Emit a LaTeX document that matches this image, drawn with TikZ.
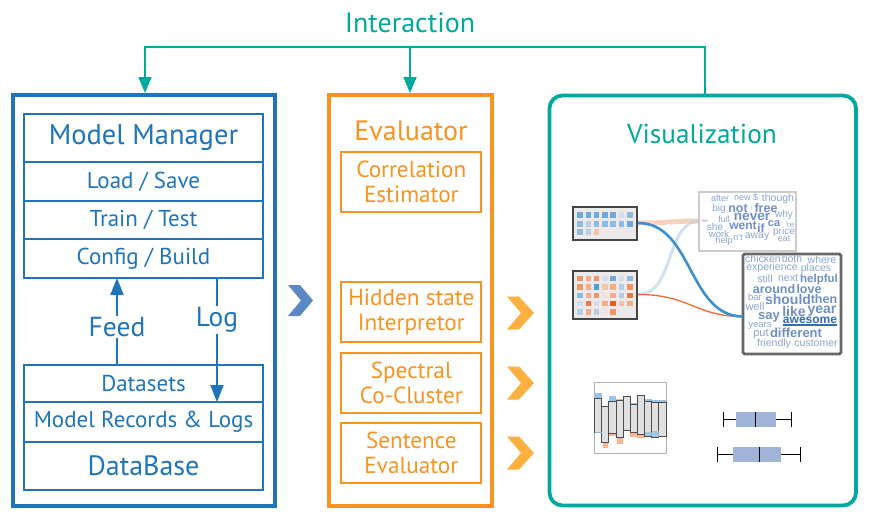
\documentclass[tikz,border=0pt]{standalone}
\usepackage{fontspec}
\setmainfont{PT Sans}
\newfontfamily\cloudfont{Liberation Sans}
\usetikzlibrary{arrows.meta,calc}
\definecolor{mblue}{HTML}{1F74BA}
\definecolor{morange}{HTML}{F7931E}
\definecolor{mteal}{HTML}{00A99D}
\definecolor{chevblue}{HTML}{5B87C5}
\definecolor{chevorange}{HTML}{FBB040}
\definecolor{wordc}{HTML}{8AA5CF}
\definecolor{wordb}{HTML}{6F8FC5}
\definecolor{wordd}{HTML}{2F6DB5}
\definecolor{mframe}{HTML}{454545}
\definecolor{mbg}{HTML}{EBE9EA}
\definecolor{cB}{HTML}{72A9DB}
\definecolor{cBm}{HTML}{8FBBE0}
\definecolor{cBl}{HTML}{B5CDE6}
\definecolor{cBg}{HTML}{D3DCE8}
\definecolor{cBs}{HTML}{4A9EDC}
\definecolor{cO}{HTML}{F0956A}
\definecolor{cOm}{HTML}{F3AE88}
\definecolor{cOl}{HTML}{F3C4A8}
\definecolor{cOp}{HTML}{F0E2DC}
\definecolor{cOd}{HTML}{EE7A40}
\definecolor{cOs}{HTML}{E85A20}
\definecolor{curveb}{HTML}{3D8FD1}
\definecolor{boxc}{HTML}{9FB4D6}
\definecolor{barpatchb}{HTML}{9CC3E5}
\definecolor{barpatcho}{HTML}{F9B490}
\tikzset{
  outerblue/.style={draw=mblue,line width=3.2pt,inner sep=0pt},
  outerorange/.style={draw=morange,line width=3.2pt,inner sep=0pt},
  outerteal/.style={draw=mteal,line width=3.8pt,rounded corners=13pt,inner sep=0pt},
  bcell/.style={draw=mblue,line width=2pt,text=mblue,minimum width=239pt,inner sep=0pt,font=\fontsize{23}{27}\selectfont},
  ocell/.style={draw=morange,line width=2pt,text=morange,minimum width=140pt,minimum height=60pt,inner sep=0pt,align=center,font=\fontsize{23.2}{25}\selectfont},
  btext/.style={text=mblue,fill=white,inner sep=1pt,font=\fontsize{27.5}{31}\selectfont},
  iline/.style={draw=mteal,line width=1.8pt},
  iarrow/.style={iline,-{Triangle[length=16pt,width=13pt]}},
  barrow/.style={draw=mblue,line width=2pt,-{Triangle[length=17pt,width=13pt]}},
  chev/.style={fill=#1},
  mat/.style={draw=mframe,line width=2.4pt,fill=mbg,minimum width=64pt,inner sep=0pt},
  cell/.style={fill=#1,minimum size=5.6pt,inner sep=0pt},
  w/.style={text=wordc,inner sep=0pt,font=\cloudfont\fontsize{#1}{#1}\selectfont},
  wb/.style={text=wordb,inner sep=0pt,font=\cloudfont\bfseries\fontsize{#1}{#1}\selectfont},
  bar/.style={fill=black!12,draw=black!70,line width=0.9pt},
  whisk/.style={draw=black,line width=1pt},
}
\begin{document}
\begin{tikzpicture}[x=1pt,y=-1pt]
\useasboundingbox[fill=white] (0,0) rectangle (872,519);

% ---------- Interaction ----------
\node[text=mteal,font=\fontsize{28}{32}\selectfont] (inter) at (410,23) {Interaction};

% ---------- Model manager ----------
\node[outerblue,minimum width=262pt,minimum height=411pt] (mm) at (144,300.5) {};
\node[bcell,minimum height=48pt,font=\fontsize{28.5}{32}\selectfont] (mmt) at (143.5,138) {Model Manager};
\node[bcell,minimum height=39pt] (ls) at (143.5,181.5) {Load / Save};
\node[bcell,minimum height=38pt] (tt) at (143.5,220) {Train / Test};
\node[bcell,minimum height=39pt] (cb) at (143.5,258.5) {Config / Build};
\node[bcell,minimum height=37pt] (ds) at (143.5,383.5) {Datasets};
\node[bcell,minimum height=40pt] (mr) at (143.5,422) {Model Records \& Logs};
\node[bcell,minimum height=48pt,font=\fontsize{28}{32}\selectfont] (db) at (143.5,466) {DataBase};

\coordinate (feedS) at (117,365);
\coordinate (feedE) at (117,278);
\coordinate (logS) at (217,278);
\coordinate (logE) at (217,402);
\draw[barrow] (feedS) -- (feedE);
\draw[barrow] (logS) -- (logE);
\node[btext] (feed) at (117,327) {Feed};
\node[btext] (log) at (217,320) {Log};

% blue chevron
\path[chev=chevblue] (288,285) -- (300,285) -- (313,300.5) -- (300,316) -- (288,316) -- (301,300.5) -- cycle;

% ---------- Evaluator ----------
\node[outerorange,minimum width=163pt,minimum height=411pt] (ev) at (410.5,300.5) {};
\node[text=morange,font=\fontsize{28}{32}\selectfont] (evt) at (411,131) {Evaluator};
\node[ocell] (ce) at (411.3,182.2) {Correlation\\Estimator};
\node[ocell] (hs) at (411.3,312) {Hidden state\\Interpretor};
\node[ocell] (sc) at (411.3,383.3) {Spectral\\Co-Cluster};
\node[ocell] (se) at (411.3,453) {Sentence\\Evaluator};

\foreach \cy in {313,383,453}{
  \path[chev=chevorange] (507,\cy-16.5) -- (519,\cy-16.5) -- (534,\cy) -- (519,\cy+16.5) -- (507,\cy+16.5) -- (521,\cy) -- cycle;
}

% ---------- Visualization ----------
\node[outerteal,minimum width=306.5pt,minimum height=410pt] (vis) at (702.75,300.5) {};
\node[text=mteal,font=\fontsize{27.3}{31}\selectfont] (vist) at (702,134) {Visualization};

% interaction connectors
\coordinate (iR) at (705,93.5);
\coordinate (iRt) at (705,47);
\coordinate (iLt) at (145,47);
\coordinate (iL) at (145,93);
\coordinate (iM) at (410,47);
\coordinate (iMe) at (410,93);
\draw[iarrow] (iR) -- (iRt) -- (iLt) -- (iL);
\draw[iarrow] (iM) -- (iMe);

% word clouds
\node[draw=black!20,line width=1.8pt,minimum width=97pt,minimum height=59pt,inner sep=0pt] (wc1) at (747.5,221.5) {};
\node[draw=black!60,line width=2.6pt,minimum width=98pt,minimum height=100pt,inner sep=0pt,rounded corners=1.5pt] (wc2) at (792,304) {};

% connectors between matrices and clouds
\coordinate (m1r) at (638,223);
\coordinate (m2r) at (638,294.5);
\coordinate (c1l) at (700,221);
\coordinate (c2l) at (743,316.5);
\draw[line width=5pt,draw=cOl,opacity=0.75] (m1r) .. controls (670,223) and (670,221) .. (c1l);
\draw[line width=3pt,draw=cBl,opacity=0.6] (m2r) .. controls (675,294.5) and (665,221) .. (c1l);
\draw[line width=1.3pt,draw=cOs!90] (m2r) .. controls (690,294.5) and (695,316.5) .. (c2l);
\draw[line width=2.6pt,draw=curveb] (m1r) .. controls (693,223) and (688,316.5) .. (c2l);

% matrices
\node[mat,minimum height=33pt] (m1) at (605,223.5) {};
\node[mat,minimum height=48pt] (m2) at (605,295) {};
\foreach \c [count=\i from 0] in {cB,cB,cB,cB,cB,cBg,cBm}{
  \node[cell=\c] (a1\i) at (580+8.3*\i,215) {};}
\foreach \c [count=\i from 0] in {cBm,cBl,cBm,cBm,cBm,cBm,cB}{
  \node[cell=\c] (a2\i) at (580+8.3*\i,224) {};}
\foreach \c [count=\i from 0] in {cBm,cBl,cOl}{
  \node[cell=\c] (a3\i) at (580+8.3*\i,232) {};}
\foreach \c [count=\i from 0] in {cO,cOm,cO,cBg,cB,cBg,cBm}{
  \node[cell=\c] (b1\i) at (580+8.3*\i,278.5) {};}
\foreach \c [count=\i from 0] in {cO,cOm,cBs,cOl,cOm,cBl,cO}{
  \node[cell=\c] (b2\i) at (580+8.3*\i,287) {};}
\foreach \c [count=\i from 0] in {cBm,cOm,cO,cOp,cOm,cBl,cOd}{
  \node[cell=\c] (b3\i) at (580+8.3*\i,295.5) {};}
\foreach \c [count=\i from 0] in {cBg,cOd,cBg,cOm,cOs,cOl,cOm}{
  \node[cell=\c] (b4\i) at (580+8.3*\i,303.5) {};}
\foreach \c [count=\i from 0] in {cBl,cOm,cBl,cOp,cO}{
  \node[cell=\c] (b5\i) at (580+8.3*\i,312) {};}

% cloud 1 words
\node[w=9] at (720,198) {after};
\node[w=9] at (746,197) {new \$};
\node[w=10.5] at (778,199) {though};
\node[w=10] at (719,209) {big};
\node[wb=12.5] at (738,208) {not};
\node[w=5] at (751.5,208) {i};
\node[wb=12.5] at (766,208) {free};
\node[w=5] at (705,221) {we};
\node[w=9] at (724,219) {full};
\node[wb=13.5] at (752,217) {never};
\node[w=10] at (784,215) {why};
\node[w=10] at (715,227) {she};
\node[wb=12] at (743,226) {went};
\node[wb=12] at (761,228) {if};
\node[wb=11] at (774,224) {ca};
\node[w=8] at (790,225) {'re};
\node[w=9.5] at (719,234) {work};
\node[w=9] at (738,237) {n't};
\node[w=10.5] at (757,237) {away};
\node[w=10] at (784,232) {price};
\node[w=9] at (724,241) {help};
\node[w=9] at (784,239) {eat};

% cloud 2 words
\node[w=10.5] at (763,259) {chicken};
\node[w=10.5] at (792,259) {both};
\node[w=10.5] at (822,260) {where};
\node[w=10.5] at (772,268) {experience};
\node[w=10.5] at (816,269) {places};
\node[w=10.5] at (765,279) {still};
\node[w=10.5] at (788,278) {next};
\node[wb=11.5] at (819,280) {helpful};
\node[wb=12.5] at (774,289) {around};
\node[wb=12.5] at (809,289) {love};
\node[w=9.5] at (755,297) {bar};
\node[wb=14] at (788,299) {should};
\node[wb=12.5] at (824,299) {then};
\node[w=11] at (755,307) {well};
\node[wb=14] at (794,311) {like};
\node[wb=14] at (822,311) {year};
\node[wb=13] at (769,317) {say};
\node[text=wordd,inner sep=0pt,font=\cloudfont\bfseries\fontsize{12}{12}\selectfont] (awe) at (810,320) {awesome};
\draw[draw=wordd,line width=1.2pt] ($(awe.south west)+(0,1.5)$) -- ($(awe.south east)+(0,1.5)$);
\node[w=9.5] at (760,326) {years};
\node[w=11] at (761,334) {put};
\node[wb=13] at (796,333) {different};
\node[w=10.5] at (774,344) {friendly};
\node[w=10.5] at (816,343) {customer};

% bar chart
\node[draw=black!30,line width=1pt,minimum width=72pt,minimum height=71pt,inner sep=0pt] (bc) at (630,417.5) {};
\foreach \i/\t/\b in {0/398.3/432.7,1/406.7/442.7,2/401.7/433.3,3/400.7/437.7,4/396/430,5/404.3/432.7,6/395.3/434,7/401/436,8/402.3/437.3,9/402.7/436.7}{
  \coordinate (bt\i) at (594.5+7.15*\i,\t);
  \coordinate (bb\i) at (594.5+7.15*\i+7.15,\b);
}
% patches
\fill[barpatchb] (594.5,393.3) rectangle (601.6,398.3);
\fill[barpatcho] (602.5,442.7) rectangle (607.5,447.7);
\fill[barpatchb] (608.8,396) rectangle (615.9,401.7);
\fill[barpatcho] (608.8,433.3) rectangle (615.9,435.7);
\fill[barpatcho] (615.9,399.3) rectangle (623,400.7);
\fill[barpatcho] (617,437.7) rectangle (622.5,444.3);
\fill[barpatchb] (630.2,403.3) rectangle (637.4,404.3);
\fill[barpatcho] (630.2,432.7) rectangle (637.4,436.7);
\fill[barpatcho] (637.4,394.7) rectangle (644.5,395.3);
\fill[barpatcho] (637.4,434) rectangle (644.5,437.7);
\fill[barpatchb] (644.5,399.3) rectangle (651.7,401);
\fill[barpatchb] (651.7,400) rectangle (658.8,402.3);
\fill[barpatchb] (658.8,400) rectangle (666,402.7);
\foreach \i in {0,...,9}{ \draw[bar] (bt\i) rectangle (bb\i); }
\fill[barpatchb,opacity=0.85] (594.5,431.7) rectangle (601.6,433.3);
\fill[barpatchb,opacity=0.85] (644.5,431.7) rectangle (651.7,436);
\fill[barpatchb,opacity=0.85] (651.7,431) rectangle (658.8,437);

% box plots
\coordinate (w1l) at (723,419.5);
\coordinate (w1r) at (791,419.5);
\draw[whisk] (w1l) -- (w1r);
\draw[whisk] (723,412) -- (723,427);
\draw[whisk] (791,412) -- (791,427);
\node[fill=boxc,minimum width=40pt,minimum height=15pt,inner sep=0pt] (bx1) at (756,419.5) {};
\draw[whisk] (755.5,412) -- (755.5,427);

\coordinate (w2l) at (717,454.5);
\coordinate (w2r) at (800,454.5);
\draw[whisk] (w2l) -- (w2r);
\draw[whisk] (717,447) -- (717,462);
\draw[whisk] (800,447) -- (800,462);
\node[fill=boxc,minimum width=48pt,minimum height=15pt,inner sep=0pt] (bx2) at (757,454.5) {};
\draw[whisk] (759,447) -- (759,462);
\end{tikzpicture}
\end{document}
